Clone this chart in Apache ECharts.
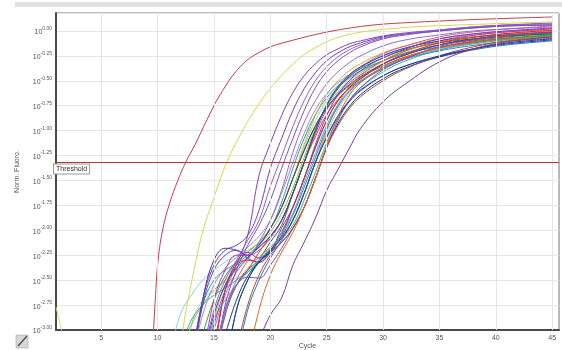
<!DOCTYPE html>
<html><head><meta charset="utf-8">
<script src="https://cdn.jsdelivr.net/npm/echarts@6/dist/echarts.min.js"></script>
<style>html,body{margin:0;padding:0;background:#fff}#c{width:562px;height:350px}</style>
</head><body><div id="c"></div>
<script>
// cycles at which the bulk curves are read
const cycles = [11,12,13,14,15,16,17,18,19,20,21,22,23,24,25,26,27,28,30,32,35,38,41,45];
const xTicks = [5,10,15,20,25,30,35,40,45];
const thresholdValue = -1.316;

// early curves read as [cycle, log10 fluorescence]
const redCurve = [[9.5,-3.4],[9.65,-3.0],[9.8,-2.7],[10.05,-2.3],[10.5,-1.97],[11.1,-1.72],[11.8,-1.5],[12.53,-1.31],[13.33,-1.14],[14.39,-0.89],[15.55,-0.64],[17.32,-0.36],[19.1,-0.21],[21.1,-0.12],[27.1,0.03],[33.3,0.09],[45,0.14]];
const yellowCurve = [[12.0,-3.4],[12.26,-3.0],[12.88,-2.6],[13.42,-2.3],[14.04,-2.0],[15.1,-1.64],[16.17,-1.31],[17.59,-0.99],[18.65,-0.79],[19.71,-0.62],[21.75,-0.36],[23.97,-0.17],[26.81,-0.04],[31.5,0.03],[36.8,0.06],[45,0.09]];
const startArtifact = [[1,-2.77],[1.2,-2.86],[1.4,-2.95],[1.6,-3.05]];

// bulk curves (values aligned to cycles, null = below plot)
const n = null;
const b01 = [n,n,n,-3.3,-2.85,-2.55,-2.38,-2.27,-2.17,-2.06,-1.9,-1.63,-1.32,-1.0,-0.74,-0.56,-0.44,-0.36,-0.25,-0.17,-0.1,-0.06,-0.035,-0.015];
const b02 = [n,n,n,n,-3.3,-2.6,-2.35,-2.3,-2.32,-2.2,-2.02,-1.77,-1.48,-1.17,-0.9,-0.7,-0.57,-0.48,-0.33,-0.23,-0.12,-0.065,-0.025,0.007];
const b03 = [n,n,-3.5,-3.05,-2.7,-2.46,-2.32,-2.22,-2.12,-1.98,-1.77,-1.48,-1.2,-0.96,-0.78,-0.65,-0.55,-0.47,-0.35,-0.26,-0.17,-0.11,-0.07,-0.04];
const b04 = [n,n,n,n,-3.3,-2.85,-2.55,-2.38,-2.27,-2.17,-2.06,-1.9,-1.63,-1.32,-1.0,-0.74,-0.56,-0.45,-0.3,-0.2,-0.11,-0.06,-0.03,0.0];
const b05 = [n,n,-3.3,-2.75,-2.5,-2.4,-2.33,-2.25,-2.14,-1.99,-1.72,-1.38,-1.08,-0.84,-0.67,-0.55,-0.47,-0.4,-0.3,-0.225,-0.16,-0.11,-0.075,-0.05];
const b06 = [n,n,n,-3.3,-2.7,-2.4,-2.25,-2.25,-2.2,-2.08,-1.9,-1.63,-1.32,-1.03,-0.79,-0.63,-0.52,-0.44,-0.3,-0.2,-0.1,-0.045,-0.01,0.02];
const b07 = [n,n,n,n,n,-3.05,-2.7,-2.46,-2.32,-2.22,-2.12,-1.98,-1.77,-1.48,-1.17,-0.93,-0.76,-0.64,-0.48,-0.37,-0.26,-0.18,-0.12,-0.08];
const b08 = [n,n,n,-3.3,-2.9,-2.7,-2.55,-2.42,-2.3,-2.18,-2.03,-1.83,-1.53,-1.23,-0.95,-0.74,-0.6,-0.5,-0.37,-0.28,-0.19,-0.13,-0.09,-0.055];
const b09 = [n,n,n,-3.4,-3.0,-2.65,-2.42,-2.28,-2.17,-2.06,-1.9,-1.63,-1.32,-1.0,-0.75,-0.57,-0.45,-0.36,-0.23,-0.15,-0.06,-0.01,0.02,0.05];
const b10 = [n,n,n,n,-3.2,-2.6,-2.32,-2.22,-2.28,-2.22,-2.05,-1.77,-1.48,-1.14,-0.85,-0.64,-0.5,-0.4,-0.27,-0.18,-0.08,-0.03,0.0,0.03];
const b11 = [n,-3.3,-2.95,-2.75,-2.6,-2.5,-2.4,-2.28,-2.15,-2.02,-1.83,-1.58,-1.27,-0.98,-0.76,-0.61,-0.5,-0.42,-0.3,-0.22,-0.14,-0.09,-0.055,-0.03];
const b12 = [n,n,n,n,n,n,-3.2,-2.75,-2.45,-2.25,-2.12,-1.98,-1.77,-1.48,-1.17,-0.95,-0.78,-0.66,-0.5,-0.38,-0.25,-0.16,-0.1,-0.06];
const b13 = [n,n,n,n,n,-3.4,-2.8,-2.5,-2.32,-2.2,-2.08,-1.9,-1.63,-1.32,-1.07,-0.86,-0.71,-0.6,-0.45,-0.35,-0.25,-0.18,-0.13,-0.09];
const b14 = [n,n,n,-3.4,-2.9,-2.55,-2.35,-2.22,-2.12,-1.98,-1.77,-1.48,-1.14,-0.85,-0.64,-0.5,-0.4,-0.33,-0.22,-0.15,-0.08,-0.04,-0.01,0.01];
const b15 = [n,n,n,n,-3.4,-2.85,-2.55,-2.4,-2.3,-2.2,-2.06,-1.85,-1.57,-1.27,-0.98,-0.76,-0.61,-0.51,-0.38,-0.28,-0.2,-0.145,-0.105,-0.073];
const b16 = [n,n,n,n,-3.3,-2.8,-2.55,-2.4,-2.22,-2.06,-1.9,-1.63,-1.32,-1.06,-0.84,-0.69,-0.58,-0.5,-0.37,-0.27,-0.17,-0.1,-0.06,-0.02];
const b17 = [n,n,-3.4,-2.75,-2.4,-2.25,-2.2,-2.28,-2.32,-2.22,-1.98,-1.77,-1.48,-1.17,-0.9,-0.7,-0.57,-0.48,-0.335,-0.24,-0.14,-0.085,-0.045,-0.013];
const b18 = [n,-3.2,-2.9,-2.75,-2.65,-2.58,-2.5,-2.42,-2.32,-2.2,-2.08,-1.95,-1.7,-1.42,-1.12,-0.88,-0.7,-0.57,-0.41,-0.3,-0.19,-0.12,-0.08,-0.04];
const b19 = [n,n,-3.3,-2.85,-2.55,-2.38,-2.27,-2.17,-2.06,-1.9,-1.63,-1.32,-1.03,-0.79,-0.63,-0.52,-0.44,-0.37,-0.245,-0.175,-0.08,-0.03,0.0,0.025];
const b20 = [n,n,n,n,n,n,n,-3.3,-2.8,-2.45,-2.22,-2.02,-1.77,-1.48,-1.15,-0.86,-0.65,-0.52,-0.36,-0.26,-0.17,-0.12,-0.085,-0.055];
const b21 = [n,n,n,n,n,n,-3.3,-2.8,-2.5,-2.28,-2.1,-1.9,-1.63,-1.32,-1.06,-0.85,-0.7,-0.59,-0.45,-0.35,-0.26,-0.19,-0.14,-0.1];
const b22 = [n,n,n,n,n,-3.4,-2.8,-2.5,-2.3,-2.12,-1.95,-1.63,-1.32,-1.0,-0.75,-0.58,-0.46,-0.38,-0.27,-0.19,-0.12,-0.08,-0.05,-0.03];
const b23 = [-3.3,-2.85,-2.65,-2.5,-2.4,-2.32,-2.25,-2.2,-2.12,-1.98,-1.77,-1.48,-1.17,-0.9,-0.7,-0.57,-0.48,-0.405,-0.295,-0.215,-0.14,-0.09,-0.055,-0.03];
const b24 = [n,-3.4,-2.95,-2.7,-2.6,-2.52,-2.48,-2.42,-2.3,-2.17,-2.06,-1.9,-1.63,-1.32,-1.03,-0.79,-0.63,-0.52,-0.375,-0.275,-0.18,-0.12,-0.08,-0.045];
const b25 = [n,n,n,n,-3.4,-2.8,-2.55,-2.47,-2.48,-2.35,-2.18,-1.98,-1.77,-1.48,-1.17,-0.9,-0.7,-0.57,-0.39,-0.28,-0.155,-0.09,-0.045,-0.01];
const b26 = [n,n,-3.4,-2.7,-2.3,-2.18,-2.2,-2.25,-2.15,-1.98,-1.77,-1.48,-1.2,-0.95,-0.77,-0.64,-0.54,-0.46,-0.33,-0.24,-0.14,-0.08,-0.04,-0.01];
const p1 = [n,n,n,-3.4,-2.95,-2.6,-2.35,-2.05,-1.45,-1.13,-0.85,-0.62,-0.45,-0.33,-0.24,-0.18,-0.13,-0.1,-0.05,-0.02,0.01,0.04,0.06,0.08];
const p2 = [n,n,-3.3,-2.7,-2.35,-2.2,-2.15,-2.05,-1.8,-1.38,-1.08,-0.8,-0.58,-0.42,-0.3,-0.22,-0.16,-0.12,-0.06,-0.03,0.0,0.03,0.05,0.06];
const p3 = [n,n,n,-3.3,-2.8,-2.5,-2.3,-2.1,-1.9,-1.56,-1.26,-0.96,-0.7,-0.5,-0.36,-0.26,-0.19,-0.14,-0.07,-0.03,0.01,0.04,0.06,0.07];
const p4 = [n,n,n,n,-3.4,-2.75,-2.4,-2.15,-1.95,-1.7,-1.38,-1.08,-0.8,-0.57,-0.41,-0.3,-0.22,-0.16,-0.08,-0.04,0.0,0.03,0.05,0.06];
const p5 = [n,n,n,n,-3.3,-2.8,-2.5,-2.3,-2.12,-1.9,-1.6,-1.22,-0.92,-0.7,-0.53,-0.41,-0.32,-0.25,-0.15,-0.09,-0.04,0.0,0.02,0.04];
const pLate = [n,n,n,n,n,n,n,n,-3.1,-2.85,-2.68,-2.35,-2.12,-1.88,-1.6,-1.39,-1.18,-0.98,-0.71,-0.53,-0.31,-0.18,-0.11,-0.06];

const bulkCurves = [
  [b23,'#8fcfd0'],[b24,'#a3d6a0'],[b11,'#7fc060'],[b18,'#3fae80'],[b05,'#22a0a0'],
  [b03,'#2f9f35'],[b14,'#c4b424'],[b19,'#a585d5'],[b26,'#4b3092'],[b17,'#5a44c4'],
  [b06,'#c030b0'],[b09,'#e050a0'],[b16,'#e03030'],[b01,'#2444c2'],[b22,'#1f6e40'],
  [b04,'#f08018'],[b10,'#7444a6'],[b02,'#d42828'],[b15,'#5070b4'],[b08,'#30b0e0'],
  [b21,'#2f70c4'],[b07,'#203484'],[b25,'#8a4abb'],[b12,'#a25232'],[b13,'#1a3aa6'],
  [b20,'#e06424'],[p1,'#8442b4'],[p2,'#6a40b2'],[p3,'#9a58c6'],[p4,'#7452c2'],[p5,'#8d6cc8'],[pLate,'#7a3f96']
];

function toPairs(vals){
  const out = [];
  vals.forEach((v,i)=>{ if (v !== null) out.push([cycles[i], v]); });
  return out;
}

const series = [];
series.push({
  type:'line', data:[[1,-3]], symbol:'none', lineStyle:{opacity:0}, z:1, silent:true,
  markLine:{silent:true, symbol:['none','none'], label:{show:false},
    lineStyle:{color:'#e6e6e6', type:'solid', width:1},
    data: xTicks.map(x=>({xAxis:x}))}
});
function addCurve(data, color){
  series.push({type:'line', data:data, showSymbol:false, symbol:'none', smooth:0.4,
    lineStyle:{color:color, width:1}, itemStyle:{color:color}, silent:true, z:3});
}
bulkCurves.forEach(([vals,color])=>addCurve(toPairs(vals), color));
addCurve(yellowCurve, '#d6d650');
addCurve(redCurve, '#c0404a');
addCurve(startArtifact, '#d8dc80');
series.push({
  type:'line', data:[[1,-3]], symbol:'none', lineStyle:{opacity:0}, z:10, silent:true,
  markLine:{silent:true, symbol:['none','none'],
    lineStyle:{color:'#b23a38', type:'solid', width:1},
    label:{show:true, position:'insideStartBottom', formatter:'Threshold', fontSize:7, color:'#333',
      fontFamily:'Liberation Sans', backgroundColor:'#fff', borderColor:'#999', borderWidth:1,
      padding:[1,2,1,2], distance:[-2,2]},
    data:[{yAxis:thresholdValue}]}
});

const chart = echarts.init(document.getElementById('c'), null, {renderer:'canvas'});
chart.setOption({
  animation:false,
  backgroundColor:'#fff',
  textStyle:{fontFamily:'Liberation Sans'},
  grid:{left:56, right:3, top:13, bottom:20, show:true, borderColor:'#777', borderWidth:1, outerBoundsMode:'none', containLabel:false},
  xAxis:{type:'value', min:1, max:45.6, name:'Cycle', nameLocation:'middle', nameGap:16, nameMoveOverlap:false,
    nameTextStyle:{fontSize:7, color:'#555', verticalAlign:'middle'},
    axisLine:{show:true, onZero:false, lineStyle:{color:'#4a4a4a', width:2}}, axisTick:{show:false},
    splitLine:{show:false},
    axisLabel:{fontSize:7, color:'#555', margin:5, customValues:xTicks}},
  yAxis:{type:'value', min:-3, max:0.18, interval:0.25, name:'Norm. Fluoro.', nameLocation:'middle', nameGap:35, nameMoveOverlap:false,
    nameTextStyle:{fontSize:7, color:'#555'},
    axisLine:{show:true, onZero:false, lineStyle:{color:'#4a4a4a', width:2}}, axisTick:{show:false},
    splitLine:{lineStyle:{color:'#e6e6e6', width:1}},
    axisLabel:{margin:4, formatter:function(v){
        const k = v/0.25; if (Math.abs(k-Math.round(k))>1e-6) return '';
        return '{a|10}{b|'+v.toFixed(2)+'}';
      },
      rich:{a:{fontSize:7, color:'#555', verticalAlign:'bottom', lineHeight:10},
            b:{fontSize:5, color:'#555', verticalAlign:'top', lineHeight:10}}}},
  graphic:[
    {type:'rect', shape:{x:15, y:2, width:547, height:5}, style:{fill:'#e0e0e0'}, silent:true},
    {type:'rect', shape:{x:16, y:335, width:12, height:13}, style:{fill:'#d8d8d8', stroke:'#999', lineWidth:0.5}, silent:true},
    {type:'line', shape:{x1:18, y1:346, x2:27, y2:336}, style:{stroke:'#555', lineWidth:1.5}, silent:true}
  ],
  series:series
});
</script></body></html>
